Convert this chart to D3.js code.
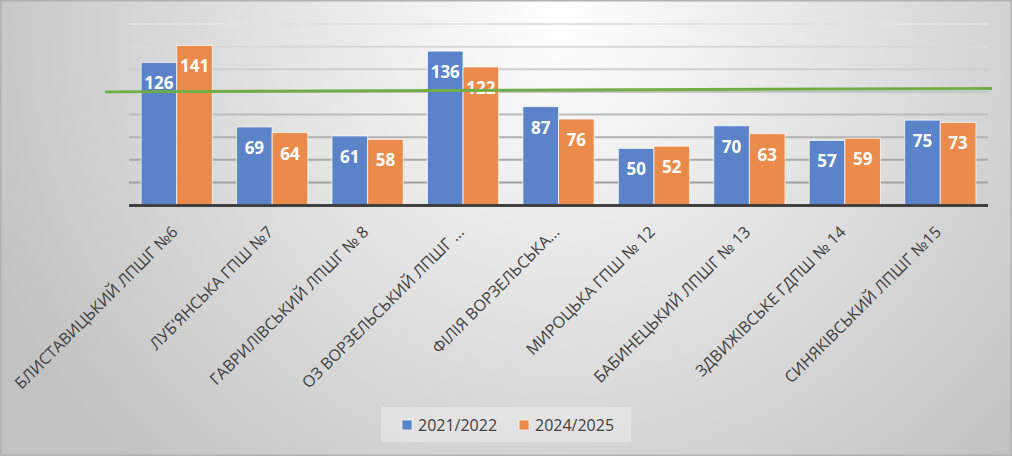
<!DOCTYPE html>
<html>
<head>
<meta charset="utf-8">
<script src="https://cdn.jsdelivr.net/npm/d3@7"></script>
<style>
  body { margin: 0; }
  svg { display: block; }
</style>
</head>
<body>
<script>
// les données du graphique
const categories = [
  "БЛИСТАВИЦЬКИЙ ЛПШГ №6",
  "ЛУБ'ЯНСЬКА ГПШ №7",
  "ГАВРИЛІВСЬКИЙ ЛПШГ № 8",
  "ОЗ ВОРЗЕЛЬСЬКИЙ ЛПШГ ...",
  "ФІЛІЯ ВОРЗЕЛЬСЬКА...",
  "МИРОЦЬКА ГПШ № 12",
  "БАБИНЕЦЬКИЙ ЛПШГ № 13",
  "ЗДВИЖІВСЬКЕ ГДПШ № 14",
  "СИНЯКІВСЬКИЙ ЛПШГ №15"
];
const seriesNames = ["2021/2022", "2024/2025"];
const values2122 = [126, 69, 61, 136, 87, 50, 70, 57, 75];
const values2425 = [141, 64, 58, 122, 76, 52, 63, 59, 73];
const gridTicks = [20, 40, 60, 80, 100, 120, 140, 160];
// la ligne verte (valeur au début, valeur à la fin)
const greenLine = [100, 103];

const W = 1012, H = 456;
const colors = ["#5b83ca", "#eb8b4b"];

// créer le canevas
const svg = d3.select("body")
  .append("svg")
  .attr("width", W)
  .attr("height", H)
  .attr("viewBox", `0 0 ${W} ${H}`);

// fond en dégradé
const defs = svg.append("defs");
const grad = defs.append("radialGradient")
  .attr("id", "fond")
  .attr("gradientUnits", "userSpaceOnUse")
  .attr("cx", 560).attr("cy", 20).attr("r", 620);
grad.append("stop").attr("offset", "0").attr("stop-color", "#ffffff");
grad.append("stop").attr("offset", "1").attr("stop-color", "#c2c2c2");

svg.append("rect")
  .attr("width", W).attr("height", H)
  .attr("fill", "url(#fond)");
svg.append("rect")
  .attr("x", 0.75).attr("y", 0.75)
  .attr("width", W - 1.5).attr("height", H - 1.5)
  .attr("fill", "none")
  .attr("stroke", "#b2b2b2")
  .attr("stroke-width", 1.5);

// échelles
const x = d3.scaleBand()
  .domain(categories)
  .range([129, 988]);
const xs = d3.scaleBand()
  .domain(seriesNames)
  .range([0, x.bandwidth()])
  .paddingOuter(0.34);
const y = d3.scaleLinear()
  .domain([0, 160])
  .range([205, 24]);

// lignes de grille
svg.append("g")
  .selectAll("line")
  .data(gridTicks)
  .join("line")
  .attr("x1", x.range()[0])
  .attr("x2", x.range()[1])
  .attr("y1", d => y(d))
  .attr("y2", d => y(d))
  .attr("stroke", (d, i) => d3.interpolateRgb("#9f9f9f", "#e2e2e2")(i / (gridTicks.length - 1)))
  .attr("stroke-width", 2);

// barres
const rows = categories.map((c, i) => ({ cat: c, vals: [values2122[i], values2425[i]] }));

const groups = svg.append("g")
  .selectAll("g")
  .data(rows)
  .join("g")
  .attr("transform", d => `translate(${x(d.cat)},0)`);

groups.selectAll("rect")
  .data(d => d.vals.map((v, j) => ({ name: seriesNames[j], v: v, j: j })))
  .join("rect")
  .attr("x", d => xs(d.name))
  .attr("y", d => y(d.v))
  .attr("width", xs.bandwidth())
  .attr("height", d => y(0) - y(d.v))
  .attr("fill", d => colors[d.j])
  .attr("stroke", "rgba(255,255,255,0.7)")
  .attr("stroke-width", 1);

groups.selectAll("text")
  .data(d => d.vals.map((v, j) => ({ name: seriesNames[j], v: v })))
  .join("text")
  .attr("x", d => xs(d.name) + xs.bandwidth() / 2)
  .attr("y", d => y(d.v) + 21)
  .attr("dy", "0.35em")
  .attr("text-anchor", "middle")
  .attr("fill", "#ffffff")
  .style("font-family", "'Open Sans', sans-serif")
  .style("font-weight", "bold")
  .style("font-size", "17px")
  .text(d => d.v);

// axe du bas
svg.append("line")
  .attr("x1", x.range()[0])
  .attr("x2", x.range()[1])
  .attr("y1", y(0) + 0.5)
  .attr("y2", y(0) + 0.5)
  .attr("stroke", "#404040")
  .attr("stroke-width", 3);

// noms des catégories
svg.append("g")
  .selectAll("text")
  .data(categories)
  .join("text")
  .attr("transform", d => `translate(${x(d) + x.bandwidth() / 2 - 2},${y(0) + 24}) rotate(-45)`)
  .attr("text-anchor", "end")
  .attr("dy", "0.35em")
  .attr("fill", "#404040")
  .style("font-family", "'Open Sans', sans-serif")
  .style("font-size", "16px")
  .text(d => d);

// ligne verte
svg.append("line")
  .attr("x1", x.range()[0] - 24)
  .attr("x2", x.range()[1] + 4)
  .attr("y1", y(greenLine[0]))
  .attr("y2", y(greenLine[1]))
  .attr("stroke", "#70ad47")
  .attr("stroke-width", 3);

// légende
const leg = svg.append("g");
leg.append("rect")
  .attr("x", 381).attr("y", 407)
  .attr("width", 250).attr("height", 35)
  .attr("fill", "#ededed")
  .attr("fill-opacity", 0.55);

const items = leg.selectAll("g")
  .data(seriesNames)
  .join("g")
  .attr("transform", (d, i) => `translate(${402 + i * 117},420)`);
items.append("rect")
  .attr("width", 10).attr("height", 10)
  .attr("fill", (d, i) => colors[i])
  .attr("stroke", "rgba(255,255,255,0.7)");
items.append("text")
  .attr("x", 16).attr("y", 5)
  .attr("dy", "0.35em")
  .attr("fill", "#404040")
  .style("font-family", "'Open Sans', sans-serif")
  .style("font-size", "16px")
  .text(d => d);
</script>
</body>
</html>
